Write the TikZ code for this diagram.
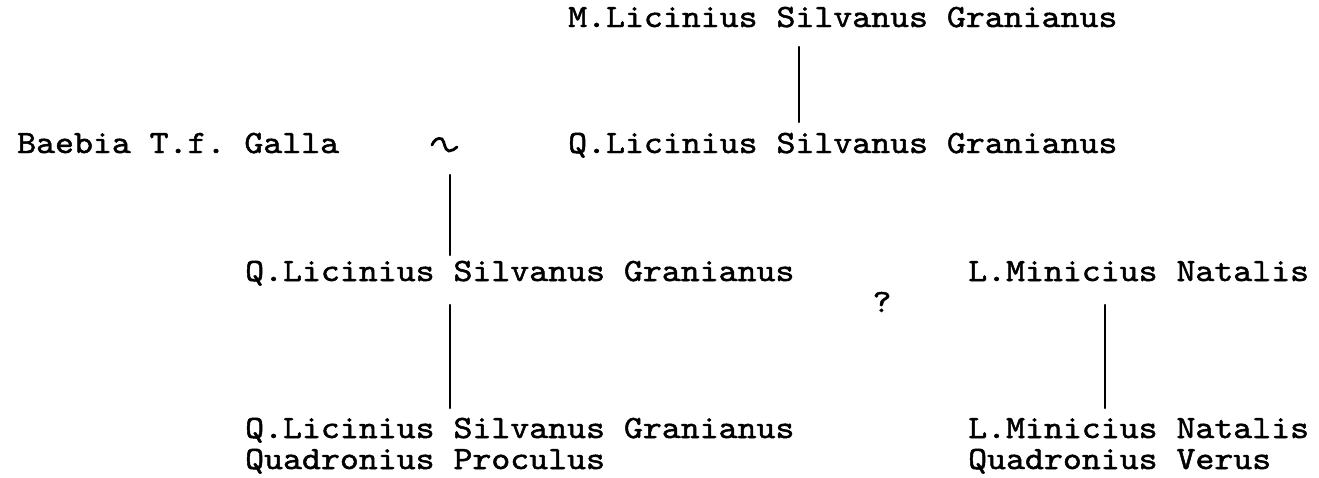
\documentclass[tikz,border=0pt]{standalone}
\usepackage{fontspec}
\setmonofont{lmmono10-regular.otf}[FakeBold=1.5,FakeStretch=1.11]
\begin{document}
\begin{tikzpicture}[x=1pt,y=1pt,
  person/.style={anchor=base west,inner sep=0pt,font=\fontsize{32.5}{38}\ttfamily},
  conn/.style={line width=2.4pt,line cap=round}]
\useasboundingbox (0,0) rectangle (1319,-477);
% people
\node[person] (ml)  at (568,-27)  {M.Licinius Silvanus Granianus};
\node[person] (bg)  at (17,-153)  {Baebia T.f. Galla};
\node[person] (ql1) at (568,-153) {Q.Licinius Silvanus Granianus};
\node[person] (ql2) at (245,-281) {Q.Licinius Silvanus Granianus};
\node[person] (mn1) at (968,-281) {L.Minicius Natalis};
\node[person] (ql3) at (245,-438) {Q.Licinius Silvanus Granianus};
\node[person] (qp)  at (245,-469) {Quadronius Proculus};
\node[person] (mn2) at (968,-438) {L.Minicius Natalis};
\node[person] (qv)  at (968,-469) {Quadronius Verus};
\node[anchor=base,inner sep=0pt,font=\fontsize{32.5}{38}\ttfamily] (q) at (882,-312) {?};
% marriage sign
\draw[conn,line width=2.8pt] (432,-145) .. controls (434,-140) and (438,-137) .. (442,-139)
  .. controls (445,-142) and (444,-150) .. (449,-151) .. controls (452,-151) and (455,-149) .. (457,-147);
% connector end points
\coordinate (a1) at (799,-47);
\coordinate (a2) at (799,-122);
\coordinate (b1) at (450,-175);
\coordinate (b2) at (450,-255);
\coordinate (c1) at (450,-305);
\coordinate (c2) at (450,-408);
\coordinate (d1) at (1105,-305);
\coordinate (d2) at (1105,-408);
\draw[conn] (a1) -- (a2);
\draw[conn] (b1) -- (b2);
\draw[conn] (c1) -- (c2);
\draw[conn] (d1) -- (d2);
\end{tikzpicture}
\end{document}
